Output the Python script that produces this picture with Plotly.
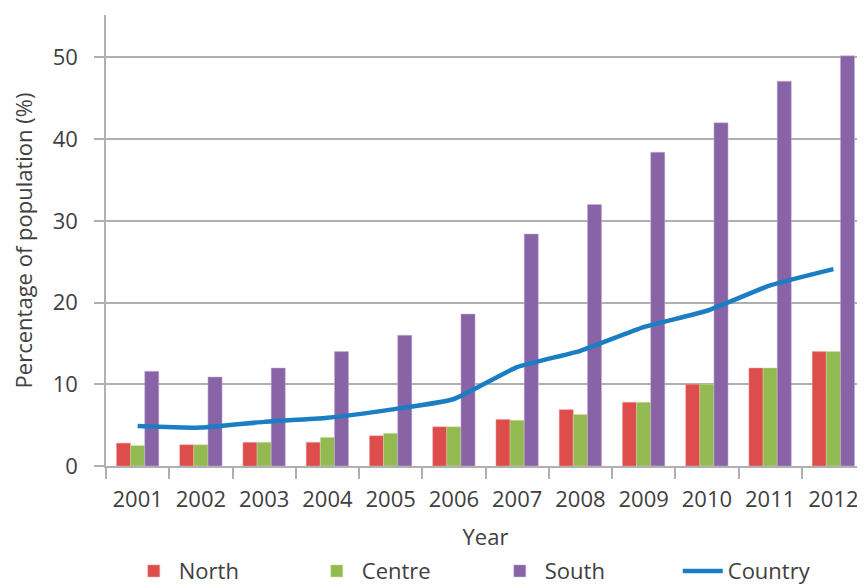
import plotly.graph_objects as go

years = ["2001", "2002", "2003", "2004", "2005", "2006", "2007", "2008", "2009", "2010", "2011", "2012"]
north = [2.8, 2.6, 2.9, 2.9, 3.7, 4.8, 5.7, 6.9, 7.8, 10.0, 12.0, 14.0]
centre = [2.5, 2.6, 2.9, 3.5, 4.0, 4.8, 5.6, 6.3, 7.8, 10.0, 12.0, 14.0]
south = [11.6, 10.9, 12.0, 14.0, 16.0, 18.6, 28.4, 32.0, 38.4, 42.0, 47.1, 50.2]
country = [4.9, 4.7, 5.4, 5.9, 6.9, 8.2, 12.1, 14.1, 17.0, 19.0, 22.1, 24.1]

font_family = "Open Sans, Noto Sans, sans-serif"
text_col = "#404040"
grid_col = "#b0b0b0"
fs = 22

fig = go.Figure()
fig.add_trace(go.Bar(x=years, y=north, name="North", marker=dict(color="#DD4D4B", line=dict(color="#f0a0a0", width=0.5))))
fig.add_trace(go.Bar(x=years, y=centre, name="Centre", marker=dict(color="#93BA50", line=dict(color="#c8e0a0", width=0.5))))
fig.add_trace(go.Bar(x=years, y=south, name="South", marker=dict(color="#8863A6", line=dict(color="#c8b4d8", width=0.5))))
fig.add_trace(go.Scatter(x=years, y=country, name="Country", mode="lines",
                         line=dict(color="#1B7DC2", width=4.5, shape="spline", smoothing=0.5)))

fig.update_layout(
    width=857, height=580,
    margin=dict(l=98, r=0, t=7, b=122, autoexpand=False),
    paper_bgcolor="white", plot_bgcolor="white",
    barmode="group", bargap=0.33, bargroupgap=0,
    font=dict(family=font_family, size=fs, color=text_col),
    showlegend=True,
    legend=dict(orientation="h", x=0.03, xanchor="left", y=-0.233, yanchor="middle",
                entrywidth=128, entrywidthmode="pixels", font=dict(size=fs, color=text_col),
                traceorder="normal", itemwidth=40),
    xaxis=dict(
        type="category", showline=True, linecolor=grid_col, linewidth=1.5,
        ticks="outside", tickson="boundaries", ticklen=11, tickcolor=grid_col, tickwidth=1.5,
        showgrid=False, tickfont=dict(size=fs, color=text_col), ticklabelstandoff=13,
        title=dict(text="Year", font=dict(size=fs, color=text_col), standoff=17),
        automargin=False,
    ),
    yaxis=dict(
        range=[0, 55.2], tickmode="linear", tick0=0, dtick=10,
        showline=True, linecolor=grid_col, linewidth=1.5,
        ticks="outside", ticklen=10, tickcolor=grid_col, tickwidth=1.5,
        showgrid=True, gridcolor=grid_col, gridwidth=1.5, zeroline=False,
        tickfont=dict(size=fs, color=text_col), ticklabelstandoff=12,
        title=dict(text="Percentage of population (%)", font=dict(size=fs, color=text_col), standoff=20),
        automargin=False,
    ),
)

fig.write_html("out.html")
